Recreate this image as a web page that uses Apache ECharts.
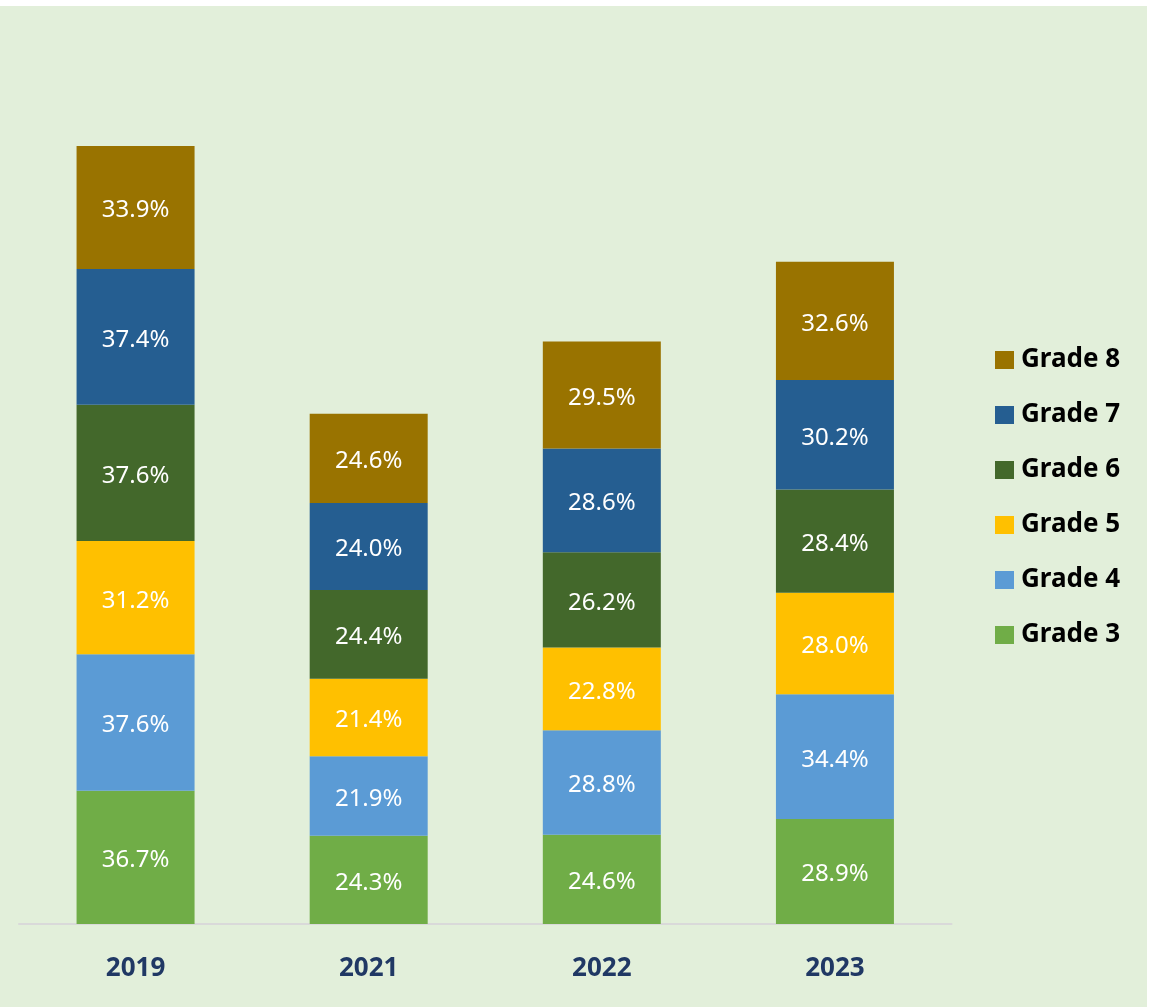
<!DOCTYPE html>
<html>
<head>
<meta charset="utf-8">
<script src="https://cdn.jsdelivr.net/npm/echarts@6/dist/echarts.min.js"></script>
<style>
  body { margin: 0; background: #ffffff; }
  #chart { margin-top: 6px; width: 1147px; height: 1001px; }
</style>
</head>
<body>
<div id="chart"></div>
<script>
// years on the x axis
var years = ['2019', '2021', '2022', '2023'];
// series, bottom of the stack first
var grade3 = [36.7, 24.3, 24.6, 28.9];
var grade4 = [37.6, 21.9, 28.8, 34.4];
var grade5 = [31.2, 21.4, 22.8, 28.0];
var grade6 = [37.6, 24.4, 26.2, 28.4];
var grade7 = [37.4, 24.0, 28.6, 30.2];
var grade8 = [33.9, 24.6, 29.5, 32.6];

var seriesList = [
  { name: 'Grade 3', data: grade3, color: '#70AD47' },
  { name: 'Grade 4', data: grade4, color: '#5B9BD5' },
  { name: 'Grade 5', data: grade5, color: '#FFC000' },
  { name: 'Grade 6', data: grade6, color: '#43682B' },
  { name: 'Grade 7', data: grade7, color: '#255E91' },
  { name: 'Grade 8', data: grade8, color: '#997300' }
];

var myChart = echarts.init(document.getElementById('chart'));
var option = {
  backgroundColor: '#E2EFDA',
  animation: false,
  textStyle: { fontFamily: 'Noto Sans' },
  grid: { left: 19, right: 195.5, top: 47, bottom: 83, containLabel: false },
  legend: {
    orient: 'vertical',
    left: 990,
    top: 336,
    icon: 'rect',
    itemWidth: 19,
    itemHeight: 18,
    itemGap: 29,
    data: ['Grade 8', 'Grade 7', 'Grade 6', 'Grade 5', 'Grade 4', 'Grade 3'],
    textStyle: { fontSize: 26, fontWeight: 'bold', color: '#000000', lineHeight: 26, padding: [0, 0, 0, 2] }
  },
  xAxis: {
    type: 'category',
    data: years,
    axisTick: { show: false },
    axisLine: { lineStyle: { color: '#D9D9D9', width: 2 } },
    axisLabel: { fontSize: 26, fontWeight: 'bold', color: '#203864', margin: 32 }
  },
  yAxis: {
    type: 'value',
    min: 0,
    max: 240,
    show: false,
    splitLine: { show: false }
  },
  series: seriesList.map(function (s) {
    return {
      name: s.name,
      type: 'bar',
      stack: 'total',
      barWidth: 118,
      data: s.data,
      itemStyle: { color: s.color },
      label: {
        show: true,
        position: 'inside',
        offset: [0, 3],
        color: '#ffffff',
        fontSize: 24,
        formatter: function (p) { return p.value.toFixed(1) + '%'; }
      }
    };
  })
};
myChart.setOption(option, true);
window.onresize = myChart.resize;
</script>
</body>
</html>
